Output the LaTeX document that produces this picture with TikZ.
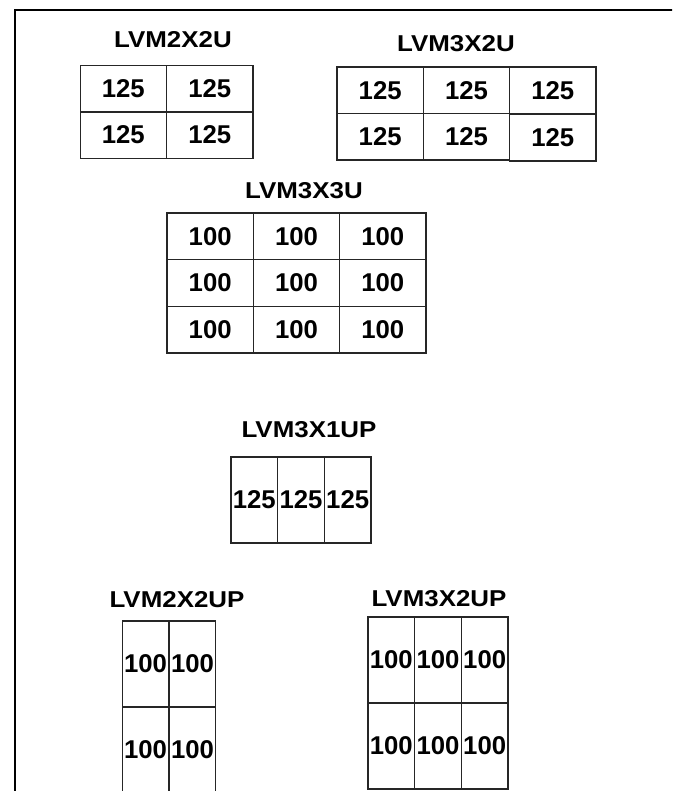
\documentclass[tikz,border=0pt]{standalone}
\usepackage{fontspec}
\setmainfont{Liberation Sans}
\usepackage{tikz}
\newcommand{\wide}[1]{\scalebox{1.13}[1]{#1}}
\tikzset{
    frameline/.style={line width=1.9pt, black},
    gridtitle/.style={font=\bfseries\fontsize{17.2pt}{18pt}\selectfont, inner sep=0pt},
    cellU/.style={rectangle, draw=black!85, line width=0.9pt, inner sep=0pt,
        minimum width=64.8pt, minimum height=34.9pt,
        font=\bfseries\fontsize{19.3pt}{20pt}\selectfont},
    cellUP/.style={cellU, minimum width=35pt, minimum height=64.5pt}
}
\begin{document}
\begin{tikzpicture}[x=0.75pt, y=-0.75pt]
            \useasboundingbox (0,0) rectangle (672,791);
            \clip (0,0) rectangle (672,791);

            % page frame (only left and top edges in view)
            \coordinate (fb) at (15,800);
            \coordinate (fc) at (15,10);
            \coordinate (fr) at (680,10);
            \draw[frameline] (fb) -- (fc) -- (fr);

            % LVM2X2U
            \node[gridtitle] (t22u) at (173,40) {\wide{LVM2X2U}};
            \node[cellU] (a11) at (123.3,89) {125};
            \node[cellU] (a12) at (209.8,89) {125};
            \node[cellU] (a21) at (123.3,135) {125};
            \node[cellU] (a22) at (209.8,135) {125};

            % LVM3X2U
            \node[gridtitle] (t32u) at (456,44) {\wide{LVM3X2U}};
            \node[cellU] (b11) at (380.2,90.3) {125};
            \node[cellU] (b12) at (466.5,90.3) {125};
            \node[cellU] (b13) at (552.8,90.3) {125};
            \node[cellU] (b21) at (380.2,136.8) {125};
            \node[cellU] (b22) at (466.5,136.8) {125};
            \node[cellU] (b23) at (552.8,137.8) {125};

            % LVM3X3U
            \node[gridtitle] (t33u) at (304,191) {\wide{LVM3X3U}};
            \node[cellU] (c11) at (210.2,236.3) {100};
            \node[cellU] (c12) at (296.5,236.3) {100};
            \node[cellU] (c13) at (382.8,236.3) {100};
            \node[cellU] (c21) at (210.2,283) {100};
            \node[cellU] (c22) at (296.5,283) {100};
            \node[cellU] (c23) at (382.8,283) {100};
            \node[cellU] (c31) at (210.2,329.7) {100};
            \node[cellU] (c32) at (296.5,329.7) {100};
            \node[cellU] (c33) at (382.8,329.7) {100};

            % LVM3X1UP
            \node[gridtitle] (t31up) at (309,430) {\wide{LVM3X1UP}};
            \node[cellUP] (d11) at (254.3,500) {125};
            \node[cellUP] (d12) at (301,500) {125};
            \node[cellUP] (d13) at (347.7,500) {125};

            % LVM2X2UP
            \node[gridtitle] (t22up) at (177,600) {\wide{LVM2X2UP}};
            \node[cellUP] (e11) at (145.5,664) {100};
            \node[cellUP] (e12) at (192.5,664) {100};
            \node[cellUP] (e21) at (145.5,750) {100};
            \node[cellUP] (e22) at (192.5,750) {100};

            % LVM3X2UP
            \node[gridtitle] (t32up) at (439,599) {\wide{LVM3X2UP}};
            \node[cellUP] (f11) at (391.3,660) {100};
            \node[cellUP] (f12) at (438,660) {100};
            \node[cellUP] (f13) at (484.7,660) {100};
            \node[cellUP] (f21) at (391.3,746) {100};
            \node[cellUP] (f22) at (438,746) {100};
            \node[cellUP] (f23) at (484.7,746) {100};
        \end{tikzpicture}
\end{document}
